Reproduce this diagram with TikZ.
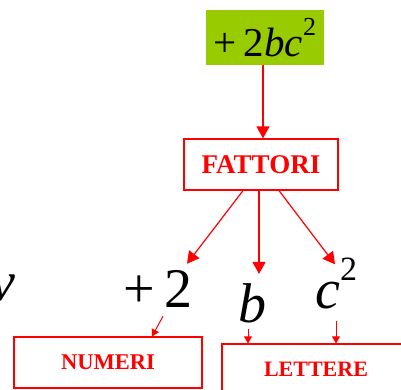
\documentclass[tikz,border=0pt]{standalone}
\usepackage{fontspec}
\setmainfont{Liberation Serif}
\usetikzlibrary{positioning, arrows.meta}
\definecolor{verdeprato}{RGB}{153,204,0}

\begin{document}
\begin{tikzpicture}[x=1pt, y=-1pt,
      monomio/.style={fill=verdeprato, inner sep=0pt, minimum width=118pt, minimum height=55pt, font=\fontsize{41}{44}\selectfont},
      categoria/.style={draw=red, line width=1.2pt, text=red, inner sep=0pt, minimum height=51pt, minimum width=#1},
      fattore/.style={inner sep=0pt, font=\fontsize{56}{60}\selectfont},
      freccia/.style={red, line width=1.2pt, -{Triangle[length=12pt, width=13pt]}},
      freccina/.style={red, line width=1pt, -{Triangle[length=7pt, width=8pt]}}
    ]
    \useasboundingbox (0,0) rectangle (401,389);

    \node[monomio] (mono) at (265,37.5) {{+}\,2\textit{bc}\raisebox{0.5em}{\fontsize{26}{28}\selectfont 2}};
    \node[categoria=154pt, font=\fontsize{27}{29}\selectfont\bfseries] (fattori) at (261,164.5) {FATTORI};

    \node[fattore, anchor=base east] (due) at (193,307) {+\,2};
    \node[fattore, anchor=base] (bi) at (252,322) {\textit{b}};
    \node[fattore, anchor=base west] (ci) at (315,308) {\textit{c}\raisebox{0.5em}{\fontsize{34}{36}\selectfont 2}};
    \node[fattore, anchor=base west] (vu) at (-10,300) {\textit{v}};

    \node[categoria=188pt, font=\fontsize{22.5}{24}\selectfont\bfseries] (numeri) at (108,362.5) {NUMERI};
    \node[categoria=188pt, font=\fontsize{22}{24}\selectfont\bfseries] (lettere) at (316,369.5) {LETTERE};

    \draw[freccia] ([xshift=-2pt]mono.south) -- ([xshift=2pt]fattori.north);
    \draw[freccia] ([xshift=-18pt]fattori.south) -- ([xshift=-6pt, yshift=6pt]due.north east);
    \draw[freccia] ([xshift=-2pt]fattori.south) -- ([xshift=7pt, yshift=9pt]bi.north);
    \draw[freccia] ([xshift=18pt]fattori.south) -- ([xshift=20pt, yshift=-7pt]ci.north west);

    \draw[freccina] ([xshift=-30pt, yshift=-9pt]due.south east) -- ([xshift=44pt]numeri.north);
    \draw[freccina] ([xshift=-4pt, yshift=-6pt]bi.south) -- ([xshift=-68pt]lettere.north);
    \draw[freccina] ([xshift=21pt, yshift=-12pt]ci.south west) -- ([xshift=20pt]lettere.north);
  \end{tikzpicture}
\end{document}
